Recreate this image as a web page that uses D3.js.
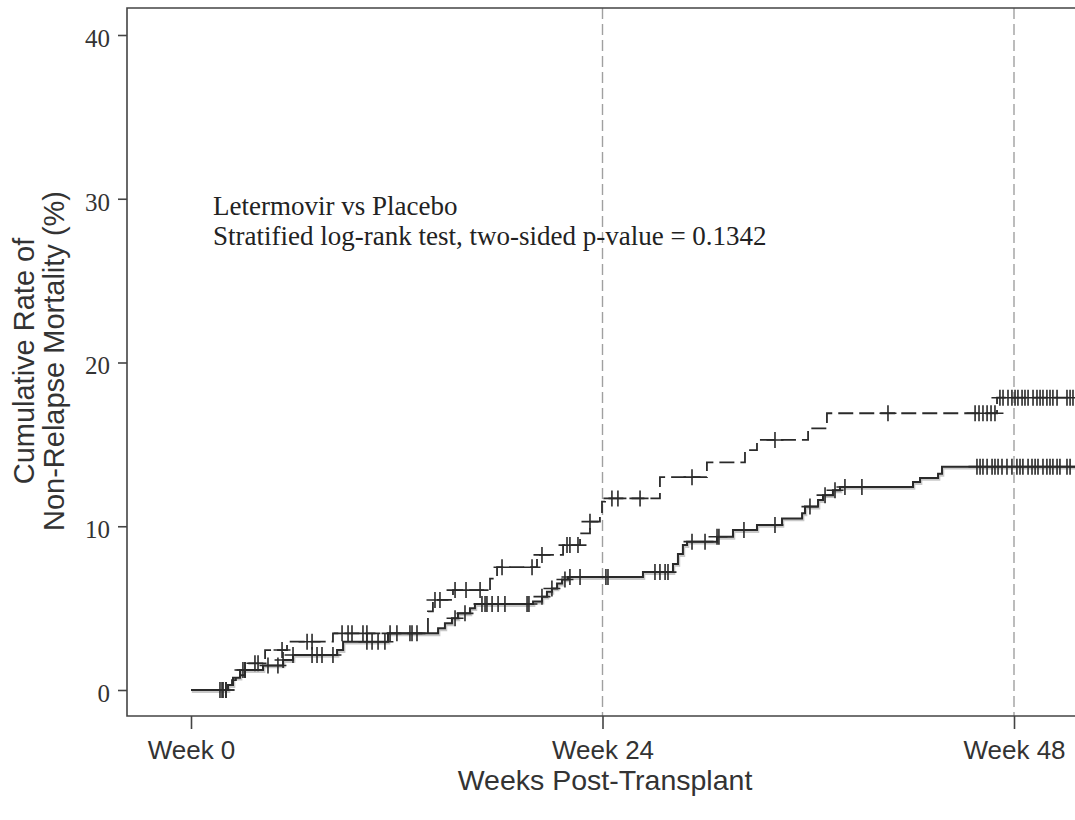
<!DOCTYPE html>
<html>
<head>
<meta charset="utf-8">
<script src="https://cdn.jsdelivr.net/npm/d3@7"></script>
<style>
  html, body { margin: 0; padding: 0; background: #fff; }
  svg { display: block; }
</style>
</head>
<body>
<svg id="chart" width="1075" height="820"></svg>
<script>
// Cumulative non-relapse mortality (%) by weeks post-transplant.
// Step curves: [week of event, cumulative rate after the event].
const letermovirSteps = [
  [2.16, 0.3], [2.45, 0.75], [2.86, 1.22], [4.20, 1.5], [5.37, 1.83], [5.95, 2.14],
  [8.52, 2.44], [8.87, 2.95], [11.49, 3.46], [14.41, 3.77], [14.81, 4.07], [15.22, 4.38],
  [15.57, 4.68], [16.27, 5.0], [16.56, 5.25], [19.95, 5.4], [20.47, 5.7], [20.76, 6.0],
  [21.05, 6.2], [21.35, 6.5], [21.64, 6.75], [21.99, 6.9], [26.36, 7.2], [28.11, 7.7],
  [28.40, 8.3], [28.69, 8.85], [28.93, 9.06], [30.68, 9.36], [31.61, 9.77], [33.01, 10.08],
  [34.47, 10.48], [35.64, 10.79], [35.81, 11.2], [36.57, 11.6], [36.86, 11.9], [37.44, 12.2],
  [37.85, 12.4], [42.11, 12.7], [42.52, 12.95], [43.57, 13.2], [43.80, 13.64]
];
const letermovirEnd = 51.9;
const letermovirCensored = [
  1.69, 1.87, 2.04, 3.03, 3.15, 4.49, 5.07, 5.37, 5.95, 7.06, 7.35, 7.64, 8.28,
  10.26, 10.56, 10.91, 11.31, 11.61, 12.01, 12.77, 12.89, 13.18, 15.40, 15.98,
  16.97, 17.15, 17.26, 17.56, 17.91, 18.31, 19.60, 19.71, 20.47, 21.05, 21.81,
  22.10, 22.69, 24.20, 24.32, 27.06, 27.35, 27.65, 27.82, 29.22, 29.98, 30.68,
  30.79, 32.25, 34.06, 36.10, 36.98, 37.56, 38.14, 39.13, 45.84, 46.02, 46.19,
  46.43, 46.72, 46.89, 47.07, 47.30, 47.59, 47.88, 48.17, 48.35, 48.52, 48.82,
  49.05, 49.23, 49.40, 49.69, 49.92, 50.10, 50.27, 50.51, 50.68, 51.09, 51.27
];

const placeboSteps = [
  [2.16, 0.3], [2.39, 0.6], [2.62, 0.9], [3.15, 1.22], [3.32, 1.63], [4.32, 2.44],
  [5.60, 2.95], [8.28, 3.46], [13.82, 4.8], [14.11, 5.5], [15.28, 6.1], [17.44, 6.8],
  [17.85, 7.5], [20.18, 8.25], [21.70, 8.85], [22.69, 9.57], [23.27, 10.28], [23.85, 10.8],
  [23.97, 11.5], [24.15, 11.7], [27.35, 13.0], [30.09, 13.9], [32.31, 14.65], [33.01, 15.27],
  [35.99, 15.98], [37.09, 16.9], [47.01, 17.85]
];
const placeboEnd = 51.5;
const placeboCensored = [
  1.81, 2.04, 3.15, 3.73, 3.91, 5.31, 6.77, 7.06, 8.81, 9.16, 9.39, 10.03, 10.26,
  14.23, 14.52, 15.40, 16.04, 16.86, 18.14, 19.89, 20.47, 21.93, 22.10, 22.57,
  23.27, 24.55, 24.90, 26.19, 29.22, 34.06, 40.65, 45.73, 45.96, 46.19, 46.43,
  46.66, 46.89, 47.18, 47.36, 47.65, 47.88, 48.06, 48.23, 48.47, 48.64, 48.82,
  49.11, 49.34, 49.52, 49.69, 49.92, 50.10, 50.27, 50.51, 51.09, 51.27, 51.44
];

const yTickValues = [0, 10, 20, 30, 40];
const xTickWeeks = [0, 24, 48];
const xTickLabels = ["Week 0", "Week 24", "Week 48"];
const referenceWeeks = [24, 48];
const annotationLines = [
  "Letermovir vs Placebo",
  "Stratified log-rank test, two-sided p-value = 0.1342"
];
const yTitleLines = ["Cumulative Rate of", "Non-Relapse Mortality (%)"];
const xTitle = "Weeks Post-Transplant";

const svg = d3.select("#chart");
const x = d3.scaleLinear().domain([0, 48]).range([191, 1014]);
const y = d3.scaleLinear().domain([0, 40]).range([690, 35]);

const frameLeft = 127, frameTop = 8, frameBottom = 716, frameRight = 1090;
const ink = "#2a2a2a";

// Reference week lines
svg.append("g").selectAll("line").data(referenceWeeks).join("line")
  .attr("x1", d => x(d)).attr("x2", d => x(d))
  .attr("y1", frameTop).attr("y2", frameBottom)
  .attr("stroke", "#a0a0a0").attr("stroke-width", 1.4)
  .attr("stroke-dasharray", "11,5");

// Plot frame (open on the right, running off the edge)
svg.append("path")
  .attr("d", `M${frameRight},${frameTop} H${frameLeft} V${frameBottom} H${frameRight}`)
  .attr("fill", "none").attr("stroke", "#444").attr("stroke-width", 1.6);

// Y axis
const yAxis = svg.append("g").attr("transform", `translate(${frameLeft},0)`)
  .call(d3.axisLeft(y).tickValues(yTickValues).tickSize(9).tickFormat(d3.format("d")));
yAxis.select(".domain").remove();
yAxis.selectAll(".tick line").attr("stroke", "#444").attr("stroke-width", 1.6);
yAxis.selectAll(".tick text")
  .attr("x", -17).attr("dy", "0.45em")
  .attr("fill", "#333")
  .style("font-family", "'Liberation Serif', 'Times New Roman', serif")
  .style("font-size", "25px");

// X axis
const xAxis = svg.append("g").attr("transform", `translate(0,${frameBottom})`)
  .call(d3.axisBottom(x).tickValues(xTickWeeks).tickSize(13)
    .tickFormat((d, i) => xTickLabels[i]));
xAxis.select(".domain").remove();
xAxis.selectAll(".tick line").attr("stroke", "#444").attr("stroke-width", 1.6);
xAxis.selectAll(".tick text")
  .attr("y", 43).attr("dy", 0)
  .attr("fill", "#333")
  .style("font-family", "'Liberation Sans', Arial, sans-serif")
  .style("font-size", "26px");

// Axis titles
svg.append("text")
  .attr("x", (frameLeft + 1075) / 2 + 4).attr("y", 790)
  .attr("text-anchor", "middle").attr("fill", "#333")
  .style("font-family", "'Liberation Sans', Arial, sans-serif")
  .style("font-size", "28.5px")
  .text(xTitle);

svg.append("g").selectAll("text").data(yTitleLines).join("text")
  .attr("transform", (d, i) => `translate(${i === 0 ? 34 : 64},361) rotate(-90)`)
  .attr("text-anchor", "middle").attr("fill", "#333")
  .style("font-family", "'Liberation Sans', Arial, sans-serif")
  .style("font-size", "29px")
  .text(d => d);

// Annotation
svg.append("g").selectAll("text").data(annotationLines).join("text")
  .attr("x", 213).attr("y", (d, i) => 215 + i * 30)
  .attr("fill", "#222")
  .style("font-family", "'Liberation Serif', 'Times New Roman', serif")
  .style("font-size", "27px")
  .text(d => d);

// Curves
function stepPoints(steps, end) {
  const pts = [[0, 0], ...steps];
  pts.push([end, steps[steps.length - 1][1]]);
  return pts;
}
function valueAt(steps, t) {
  let v = 0;
  for (const [w, c] of steps) { if (w <= t) v = c; else break; }
  return v;
}
const line = d3.line().x(d => x(d[0])).y(d => y(d[1])).curve(d3.curveStepAfter);

const plot = svg.append("g");
const letPts = stepPoints(letermovirSteps, letermovirEnd);
const plaPts = stepPoints(placeboSteps, placeboEnd);

// soft grey halo under the solid curve
plot.append("path").attr("d", line(letPts))
  .attr("transform", "translate(0.8,1.4)")
  .attr("fill", "none").attr("stroke", "#9a9a9a").attr("stroke-width", 3)
  .attr("stroke-opacity", 0.55);
plot.append("path").attr("d", line(letPts))
  .attr("fill", "none").attr("stroke", ink).attr("stroke-width", 2);

plot.append("path").attr("d", line(plaPts))
  .attr("fill", "none").attr("stroke", ink).attr("stroke-width", 1.8)
  .attr("stroke-dasharray", "15,6");

function cross(t, v) {
  const cx = x(t), cy = y(v);
  return `M${cx - 8.5},${cy}H${cx + 8.5}M${cx},${cy - 8}V${cy + 8}`;
}
plot.append("path")
  .attr("d", letermovirCensored.map(t => cross(t, valueAt(letermovirSteps, t))).join(""))
  .attr("fill", "none").attr("stroke", ink).attr("stroke-width", 1.6);
plot.append("path")
  .attr("d", placeboCensored.map(t => cross(t, valueAt(placeboSteps, t))).join(""))
  .attr("fill", "none").attr("stroke", ink).attr("stroke-width", 1.6);
</script>
</body>
</html>
